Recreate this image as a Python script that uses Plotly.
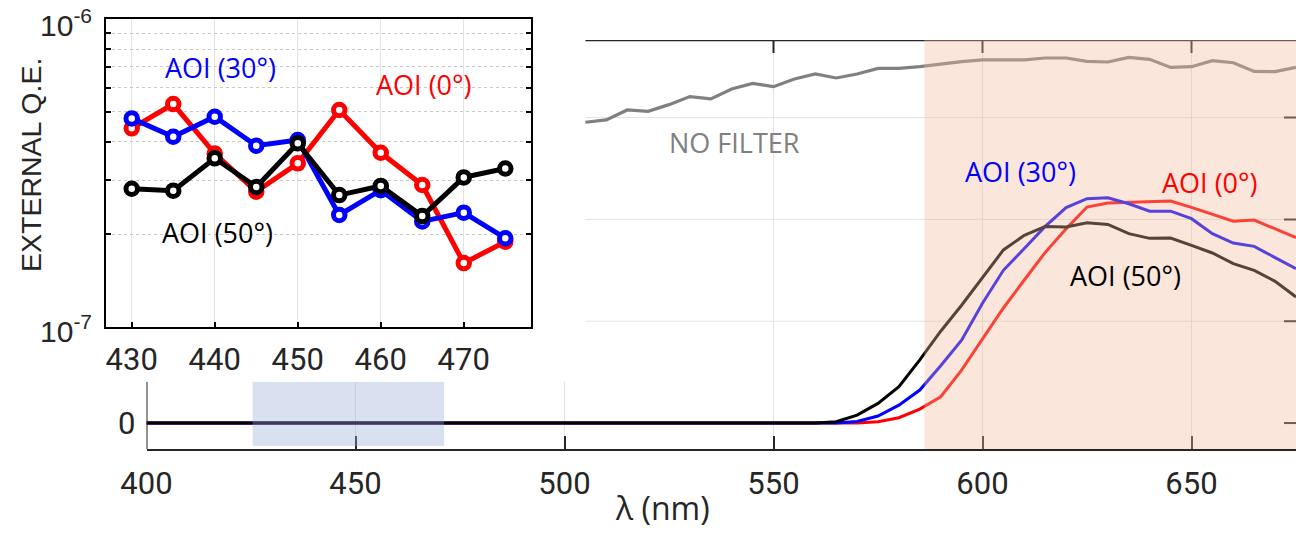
import plotly.graph_objects as go

# ---------------- data ----------------
# main panel (linear, arbitrary units: tick step 0.1)
wl_main = [400, 555, 560, 565, 570, 575, 580, 585, 590, 595, 600, 605, 610, 615, 620,
           625, 630, 635, 640, 645, 650, 655, 660, 665, 670, 675]
aoi0_main = [0, 0, 0, 0, 0, 0.0013, 0.0052, 0.0137, 0.0258, 0.052, 0.0826, 0.113, 0.1405,
             0.1676, 0.1907, 0.2121, 0.216, 0.2167, 0.2173, 0.218, 0.2118, 0.2052, 0.1983,
             0.1993, 0.1909, 0.1821]
aoi30_main = [0, 0, 0, 0, 0.0015, 0.0069, 0.0176, 0.0324, 0.0562, 0.0814, 0.1176, 0.15,
              0.1714, 0.1931, 0.2116, 0.2203, 0.2213, 0.2154, 0.2081, 0.2081, 0.2007, 0.186,
              0.1768, 0.1735, 0.1625, 0.1517]
aoi50_main = [0, 0, 0, 0.0013, 0.0078, 0.0193, 0.0356, 0.062, 0.0902, 0.1157, 0.1427, 0.17,
              0.1843, 0.1931, 0.1925, 0.1968, 0.1951, 0.186, 0.1814, 0.1817, 0.1745, 0.167,
              0.1566, 0.15, 0.1392, 0.1238]

wl_nofilter = [505, 510, 515, 520, 525, 530, 535, 540, 545, 550, 555, 560, 565, 570, 575,
               580, 585, 590, 595, 600, 605, 610, 615, 620, 625, 630, 635, 640, 645, 650,
               655, 660, 665, 670, 675]
nofilter = [0.2954, 0.2977, 0.3075, 0.3062, 0.3127, 0.3206, 0.3183, 0.3281, 0.3336, 0.3304,
            0.3379, 0.3428, 0.3389, 0.3428, 0.3483, 0.3483, 0.35, 0.3525, 0.355, 0.3566,
            0.3566, 0.3566, 0.3585, 0.3585, 0.3552, 0.3546, 0.3591, 0.3572, 0.3493, 0.35,
            0.3559, 0.3539, 0.3454, 0.3451, 0.3493]

main_xticks = [400, 450, 500, 550, 600, 650]

# inset (log scale)
wl_inset = [430, 435, 440, 445, 450, 455, 460, 465, 470, 475]
aoi0_inset = [4.42e-7, 5.30e-7, 3.66e-7, 2.75e-7, 3.40e-7, 5.07e-7, 3.68e-7, 2.89e-7, 1.61e-7, 1.89e-7]
aoi30_inset = [4.76e-7, 4.15e-7, 4.82e-7, 3.88e-7, 4.05e-7, 2.31e-7, 2.78e-7, 2.20e-7, 2.35e-7, 1.94e-7]
aoi50_inset = [2.81e-7, 2.77e-7, 3.53e-7, 2.85e-7, 3.95e-7, 2.68e-7, 2.87e-7, 2.29e-7, 3.06e-7, 3.27e-7]
inset_xticks = [430, 440, 450, 460, 470]
inset_yticks = [1e-7, 2e-7, 3e-7, 4e-7, 5e-7, 6e-7, 7e-7, 8e-7, 9e-7, 1e-6]

# ---------------- layout geometry ----------------
W, H = 1296, 534
XMIN, XMAX = 400, 675
YMIN, YMAX = -0.0255, 0.3762
DARK = "#262626"
TICKFONT = dict(family="Roboto, Arial, sans-serif", size=31, color=DARK)
TXTFONT = "Open Sans, Noto Sans, sans-serif"
ARIAL = "Liberation Sans, Arial, sans-serif"

def px_x(px):  # pixel -> paper x
    return px / W

def px_y(py):  # pixel from top -> paper y
    return (H - py) / H

fig = go.Figure()

# main traces
fig.add_trace(go.Scatter(x=wl_nofilter, y=nofilter, mode="lines",
                         line=dict(color="#808080", width=3.2), xaxis="x", yaxis="y"))
fig.add_trace(go.Scatter(x=wl_main, y=aoi0_main, mode="lines",
                         line=dict(color="#ff0000", width=3), xaxis="x", yaxis="y"))
fig.add_trace(go.Scatter(x=wl_main, y=aoi30_main, mode="lines",
                         line=dict(color="#0000ff", width=3), xaxis="x", yaxis="y"))
fig.add_trace(go.Scatter(x=wl_main, y=aoi50_main, mode="lines",
                         line=dict(color="#000000", width=3), xaxis="x", yaxis="y"))

# inset traces
def inset_trace(y, color):
    return go.Scatter(x=wl_inset, y=y, mode="lines+markers",
                      line=dict(color=color, width=5),
                      marker=dict(symbol="circle", size=11.5, color="white",
                                  line=dict(color=color, width=5)),
                      xaxis="x2", yaxis="y2")

fig.add_trace(inset_trace(aoi0_inset, "#ff0000"))
fig.add_trace(inset_trace(aoi30_inset, "#0000ff"))
fig.add_trace(inset_trace(aoi50_inset, "#000000"))

# ---------------- shapes ----------------
shapes = []
ppu = 409 / (YMAX - YMIN)          # pixels per y unit
ppn = (W - 146.5) / (XMAX - XMIN)  # pixels per nm
y_cut = (423 - 382) / ppu          # top of visible lower strip
grid = "#e2e2e2"

for xv in [450, 500]:
    shapes.append(dict(type="line", xref="x", yref="y", x0=xv, x1=xv, y0=YMIN, y1=y_cut,
                       line=dict(color=grid, width=1), layer="below"))
for xv in [550, 600, 650]:
    shapes.append(dict(type="line", xref="x", yref="y", x0=xv, x1=xv, y0=YMIN, y1=YMAX,
                       line=dict(color=grid, width=1), layer="below"))
for yv in [0.1, 0.2, 0.3]:
    shapes.append(dict(type="line", xref="x", yref="y", x0=505, x1=XMAX, y0=yv, y1=yv,
                       line=dict(color=grid, width=1), layer="below"))

# left axis segment, top axis line, ticks
shapes.append(dict(type="line", xref="x", yref="y", x0=XMIN, x1=XMIN, y0=YMIN, y1=y_cut,
                   line=dict(color=DARK, width=2), layer="above"))
shapes.append(dict(type="line", xref="x", yref="y", x0=505, x1=XMAX, y0=YMAX, y1=YMAX,
                   line=dict(color=DARK, width=2.5), layer="above"))
for xv in [550, 600, 650]:
    shapes.append(dict(type="line", xref="x", yref="y", x0=xv, x1=xv, y0=YMAX, y1=YMAX - 13 / ppu,
                       line=dict(color=DARK, width=2), layer="above"))
for yv in [0, 0.1, 0.2, 0.3]:
    shapes.append(dict(type="line", xref="x", yref="y", x0=XMAX - 12 / ppn, x1=XMAX, y0=yv, y1=yv,
                       line=dict(color=DARK, width=2), layer="above"))

# coloured bands (drawn on top, translucent)
shapes.append(dict(type="rect", xref="x", yref="y", x0=425.4, x1=471.2,
                   y0=(423 - 446) / ppu, y1=y_cut,
                   fillcolor="rgb(149,172,213)", opacity=0.36, line=dict(width=0), layer="above"))
shapes.append(dict(type="rect", xref="x", yref="y", x0=586.1, x1=XMAX + 5,
                   y0=YMIN - 0.003, y1=YMAX + 0.003,
                   fillcolor="rgb(241,186,152)", opacity=0.36, line=dict(width=0), layer="above"))

# ---------------- annotations ----------------
def ann(text, xpx, ypx, color, size=27, family=TXTFONT, angle=0, xanchor="center"):
    return dict(text=text, x=px_x(xpx), y=px_y(ypx), xref="paper", yref="paper",
                showarrow=False, xanchor=xanchor, yanchor="middle", textangle=angle,
                font=dict(family=family, size=size, color=color))

annotations = [
    ann("AOI (30°)", 220, 68, "#0000ff"),
    ann("AOI (0°)", 424, 85, "#ff0000"),
    ann("AOI (50°)", 217, 233, "#000000"),
    ann("NO FILTER", 734, 142, "#808080"),
    ann("AOI (30°)", 1020, 171, "#0000ff"),
    ann("AOI (0°)", 1210, 183, "#ff0000"),
    ann("AOI (50°)", 1125, 275, "#000000"),
    ann("λ (nm)", 662, 507, DARK, size=32),
    ann("EXTERNAL Q.E.", 31, 165, DARK, size=28.5, family=ARIAL, angle=-90),
    ann("10<sup>-6</sup>", 94, 23, DARK, size=30, family=ARIAL, xanchor="right"),
    ann("10<sup>-7</sup>", 94, 329, DARK, size=30, family=ARIAL, xanchor="right"),
]

fig.update_layout(
    width=W, height=H,
    margin=dict(l=0, r=0, t=0, b=0, pad=0, autoexpand=False),
    paper_bgcolor="white", plot_bgcolor="white",
    showlegend=False,
    shapes=shapes, annotations=annotations,
    xaxis=dict(domain=[px_x(146.5), 1], range=[XMIN, XMAX], anchor="y", automargin=False,
               tickmode="array", tickvals=main_xticks,
               ticks="inside", ticklen=13, tickwidth=2, tickcolor=DARK,
               showline=True, linecolor=DARK, linewidth=2, mirror=False,
               showgrid=False, zeroline=False, tickfont=TICKFONT, ticklabelstandoff=6),
    yaxis=dict(domain=[px_y(449), px_y(40)], range=[YMIN, YMAX], anchor="x", automargin=False,
               tickmode="array", tickvals=[0], ticktext=["0"],
               ticks="", showline=False, showgrid=False, zeroline=False,
               tickfont=TICKFONT, ticklabelstandoff=10),
    xaxis2=dict(domain=[px_x(106), px_x(531)], range=[426.9, 478.1], anchor="y2", automargin=False,
                tickmode="array", tickvals=inset_xticks,
                ticks="inside", ticklen=5, tickwidth=1.5, tickcolor="black",
                showline=True, linecolor="black", linewidth=2, mirror=True,
                showgrid=True, gridcolor="#e4e4e4", gridwidth=1, zeroline=False,
                tickfont=TICKFONT, ticklabelstandoff=4),
    yaxis2=dict(domain=[px_y(326.7), px_y(19.3)], type="log", range=[-7, -6], anchor="x2",
                automargin=False,
                tickmode="array", tickvals=inset_yticks, showticklabels=False,
                ticks="inside", ticklen=5, tickwidth=1.5, tickcolor="black",
                showline=True, linecolor="black", linewidth=2, mirror="ticks",
                showgrid=True, gridcolor="#c8c8c8", griddash="dot", gridwidth=1,
                zeroline=False),
)

fig.write_html(
    "out.html",
    config={"displayModeBar": False},
    post_script="document.body.style.margin='0';document.body.style.overflow='hidden';",
)
